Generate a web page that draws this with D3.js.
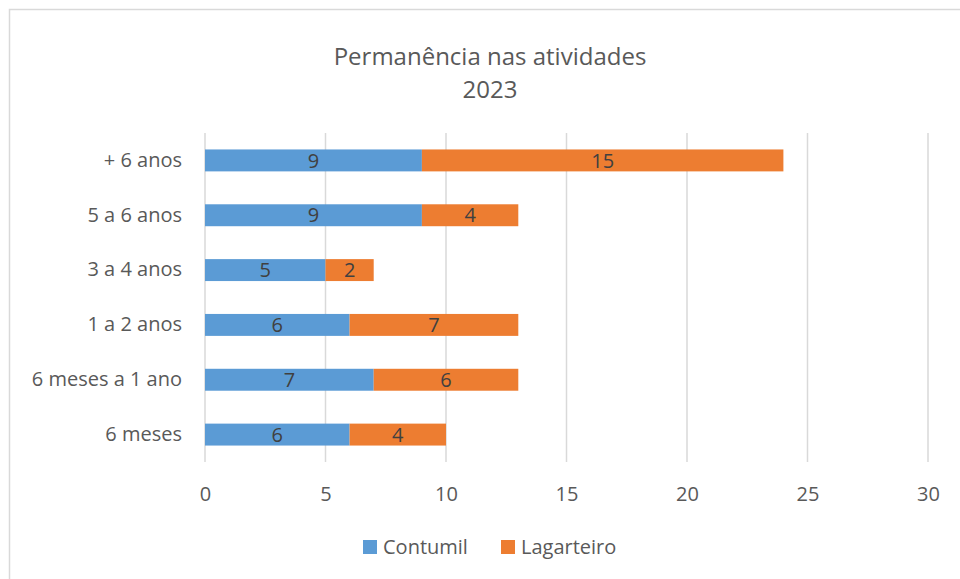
<!DOCTYPE html>
<html>
<head>
<meta charset="utf-8">
<script src="https://cdn.jsdelivr.net/npm/d3@7"></script>
<style>
  body { margin: 0; background: #fff; }
  text { font-family: "Open Sans", "Noto Sans", sans-serif; }
</style>
</head>
<body>
<svg id="chart" width="960" height="579"></svg>
<script>
const categories = ["+ 6 anos", "5 a 6 anos", "3 a 4 anos", "1 a 2 anos", "6 meses a 1 ano", "6 meses"];
const contumil = [9, 9, 5, 6, 7, 6];
const lagarteiro = [15, 4, 2, 7, 6, 4];
const seriesNames = ["Contumil", "Lagarteiro"];
const colors = ["#5B9BD5", "#ED7D31"];
const xTicks = [0, 5, 10, 15, 20, 25, 30];

const svg = d3.select("#chart");

// chart border (runs off the right / bottom edge like the reference)
svg.append("rect")
   .attr("x", 9.5).attr("y", 9.5)
   .attr("width", 1000).attr("height", 1000)
   .attr("fill", "none")
   .attr("stroke", "#d9d9d9")
   .attr("stroke-width", 1.5);

const x = d3.scaleLinear().domain([0, 30]).range([205, 928]);
const y = d3.scaleBand().domain(categories).range([133, 462]).paddingInner(0.6).paddingOuter(0.3);

// title
svg.append("text").attr("x", 490).attr("y", 65).attr("text-anchor", "middle")
   .attr("font-size", 24).attr("fill", "#595959").text("Permanência nas atividades");
svg.append("text").attr("x", 490).attr("y", 98).attr("text-anchor", "middle")
   .attr("font-size", 24).attr("fill", "#595959").text("2023");

// gridlines
svg.append("g").selectAll("line")
   .data(xTicks)
   .join("line")
   .attr("x1", d => x(d)).attr("x2", d => x(d))
   .attr("y1", 133).attr("y2", 462)
   .attr("stroke", "#d9d9d9").attr("stroke-width", 1.5);

// x axis labels
const xAxis = svg.append("g")
   .attr("transform", "translate(0,462)")
   .call(d3.axisBottom(x).tickValues(xTicks).tickSize(0).tickPadding(25));
xAxis.select(".domain").remove();
xAxis.selectAll("text").attr("font-size", 20).attr("fill", "#595959")
   .style("font-family", "'Open Sans', 'Noto Sans', sans-serif");

// y axis labels
const yAxis = svg.append("g")
   .attr("transform", "translate(205,0)")
   .call(d3.axisLeft(y).tickSize(0).tickPadding(23));
yAxis.select(".domain").remove();
yAxis.selectAll("text").attr("font-size", 20).attr("fill", "#595959")
   .style("font-family", "'Open Sans', 'Noto Sans', sans-serif");

// stacked data
const rows = categories.map((c, i) => ({ cat: c, Contumil: contumil[i], Lagarteiro: lagarteiro[i] }));
const stacked = d3.stack().keys(seriesNames)(rows);

const layers = svg.append("g").selectAll("g")
   .data(stacked)
   .join("g")
   .attr("fill", (d, i) => colors[i]);

layers.selectAll("rect")
   .data(d => d)
   .join("rect")
   .attr("x", d => x(d[0]))
   .attr("y", d => y(d.data.cat))
   .attr("width", d => x(d[1]) - x(d[0]))
   .attr("height", y.bandwidth());

layers.selectAll("text")
   .data(d => d)
   .join("text")
   .attr("x", d => (x(d[0]) + x(d[1])) / 2)
   .attr("y", d => y(d.data.cat) + y.bandwidth() / 2)
   .attr("dy", "0.36em")
   .attr("text-anchor", "middle")
   .attr("font-size", 20)
   .attr("fill", "#404040")
   .text(d => d[1] - d[0]);

// legend
const legendX = [363, 501];
const legend = svg.append("g").selectAll("g")
   .data(seriesNames)
   .join("g")
   .attr("transform", (d, i) => `translate(${legendX[i]},547)`);
legend.append("rect").attr("x", 0).attr("y", -7).attr("width", 14).attr("height", 14)
   .attr("fill", (d, i) => colors[i]);
legend.append("text").attr("x", 20).attr("dy", "0.36em")
   .attr("font-size", 20).attr("fill", "#595959").text(d => d);
</script>
</body>
</html>
